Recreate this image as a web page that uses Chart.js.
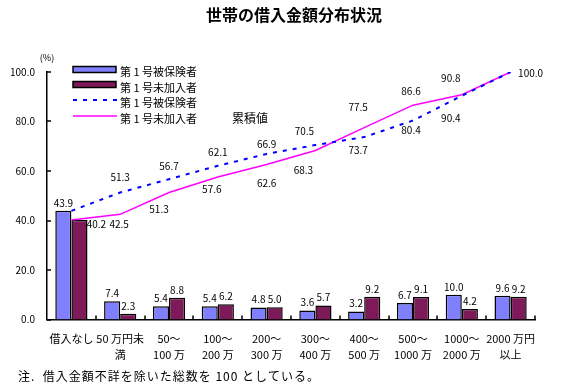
<!DOCTYPE html>
<html lang="ja">
<head>
<meta charset="utf-8">
<script src="https://cdn.jsdelivr.net/npm/chart.js@4.4.1/dist/chart.umd.min.js"></script>
<style>
  html, body { margin: 0; padding: 0; background: #fff; }
  #wrap { width: 561px; height: 384px; }
</style>
</head>
<body>
<div id="wrap"><canvas id="grafico" width="561" height="384"></canvas></div>
<script>
// ── Datos ─────────────────────────────────────────────────────
const categorias = [
  ['借入なし', ''],
  ['50 万円未', '満'],
  ['50～', '100 万'],
  ['100～', '200 万'],
  ['200～', '300 万'],
  ['300～', '400 万'],
  ['400～', '500 万'],
  ['500～', '1000 万'],
  ['1000～', '2000 万'],
  ['2000 万円', '以上']
];
const hihokensha   = [43.9, 7.4, 5.4, 5.4, 4.8, 3.6, 3.2, 6.7, 10.0, 9.6];
const mikanyusha   = [40.2, 2.3, 8.8, 6.2, 5.0, 5.7, 9.2, 9.1, 4.2, 9.2];
const ruisekiHiho  = [43.9, 51.3, 56.7, 62.1, 66.9, 70.5, 73.7, 80.4, 90.4, 100.0];
const ruisekiMika  = [40.2, 42.5, 51.3, 57.6, 62.6, 68.3, 77.5, 86.6, 90.8, 100.0];
const yTicks       = [0, 20, 40, 60, 80, 100];

const FONT = '"Noto Sans CJK JP", sans-serif';
const AZUL = '#8080ff';
const VINO = '#7f1a5a';

// posiciones de las etiquetas de las líneas (dx, dy respecto del punto)
const posHiho = [null, [0,-15], [0,-13], [0,-14], [0,-10], [-11,-14], [-6,13], [-2,10], [-11,22], [20,1]];
const posMika = [[25,4], [-1,10], [-10,17], [-6,12], [0,19], [-12,20], [-6,-20], [-2,-14], [-11,-17], null];

// ── Plugin: textos, leyenda, ticks internos ───────────────────
const extras = {
  id: 'extras',
  afterDraw(chart) {
    const c = chart.ctx;
    const area = chart.chartArea;
    const ys = chart.scales.y;
    c.save();
    c.fillStyle = '#000';
    c.strokeStyle = '#000';

    // ticks hacia adentro
    c.lineWidth = 1.5;
    c.beginPath();
    yTicks.forEach(v => {
      const y = Math.round(ys.getPixelForValue(v));
      c.moveTo(area.left, y); c.lineTo(area.left + 4, y);
    });
    for (let i = 1; i <= categorias.length; i++) {
      const x = Math.round(area.left + (area.right - area.left) * i / categorias.length);
      c.moveTo(x, area.bottom); c.lineTo(x, area.bottom - 4);
    }
    c.stroke();

    // título
    c.textAlign = 'center'; c.textBaseline = 'middle';
    c.font = 'bold 16px ' + FONT;
    c.fillText('世帯の借入金額分布状況', 294, 15);

    c.font = '9px ' + FONT;
    c.fillText('(%)', 47, 58);

    // etiquetas de barras
    c.font = '10px ' + FONT;
    [0, 1].forEach(d => {
      const meta = chart.getDatasetMeta(d);
      const vals = chart.data.datasets[d].data;
      meta.data.forEach((bar, j) => {
        if (d === 1 && j === 0) return;
        c.fillText(vals[j].toFixed(1), bar.x, bar.y - 8);
      });
    });

    // etiquetas de líneas
    [[2, posHiho], [3, posMika]].forEach(([d, pos]) => {
      const meta = chart.getDatasetMeta(d);
      const vals = chart.data.datasets[d].data;
      meta.data.forEach((pt, j) => {
        if (!pos[j]) return;
        c.fillText(vals[j].toFixed(1), pt.x + pos[j][0], pt.y + pos[j][1]);
      });
    });

    // leyenda
    c.lineWidth = 1.5;
    c.fillStyle = AZUL; c.fillRect(73, 67, 43, 5); c.strokeRect(73, 66.5, 43, 6);
    c.fillStyle = VINO; c.fillRect(73, 82, 43, 5); c.strokeRect(73, 81.5, 43, 6);
    c.lineWidth = 2; c.strokeStyle = '#0000ff'; c.setLineDash([4, 6]);
    c.beginPath(); c.moveTo(73, 100); c.lineTo(117, 100); c.stroke();
    c.setLineDash([]); c.lineWidth = 1.5; c.strokeStyle = '#ff00ff';
    c.beginPath(); c.moveTo(73, 116); c.lineTo(117, 116); c.stroke();

    c.fillStyle = '#000';
    c.textAlign = 'left';
    c.font = '11px ' + FONT;
    c.fillText('第 1 号被保険者', 120, 72);
    c.fillText('第 1 号未加入者', 120, 88);
    c.fillText('第 1 号被保険者', 120, 103);
    c.fillText('第 1 号未加入者', 120, 119);
    c.font = '12px ' + FONT;
    c.fillText('累積値', 232, 118);

    // nota
    c.font = '12px ' + FONT;
    c.letterSpacing = '1px';
    c.fillText('注.  借入金額不詳を除いた総数を 100 としている。', 18, 376);
    c.restore();
  }
};

// ── Gráfico ───────────────────────────────────────────────────
new Chart(document.getElementById('grafico'), {
  type: 'bar',
  data: {
    labels: categorias,
    datasets: [
      {
        label: '第1号被保険者', data: hihokensha,
        backgroundColor: AZUL, borderColor: '#000', borderWidth: 1.5,
        categoryPercentage: 0.66, barPercentage: 1.0, order: 2
      },
      {
        label: '第1号未加入者', data: mikanyusha,
        backgroundColor: VINO, borderColor: '#000', borderWidth: 1.5,
        categoryPercentage: 0.66, barPercentage: 1.0, order: 2
      },
      {
        type: 'line', label: '第1号被保険者 累積', data: ruisekiHiho,
        borderColor: '#0000ff', borderWidth: 2, borderDash: [4, 6],
        pointRadius: 0, fill: false, tension: 0, order: 1
      },
      {
        type: 'line', label: '第1号未加入者 累積', data: ruisekiMika,
        borderColor: '#ff00ff', borderWidth: 1.5,
        pointRadius: 0, fill: false, tension: 0, order: 1
      }
    ]
  },
  options: {
    responsive: false,
    animation: false,
    devicePixelRatio: 1,
    layout: { padding: { top: 72, left: 0, right: 26, bottom: 0 } },
    plugins: { legend: { display: false }, tooltip: { enabled: false }, title: { display: false } },
    scales: {
      x: {
        grid: { display: false, drawTicks: false },
        border: { display: true, color: '#000', width: 1.5 },
        ticks: {
          color: '#000', padding: 11, maxRotation: 0, autoSkip: false,
          font: { family: FONT, size: 11, lineHeight: 1.45 }
        },
        afterFit: s => { s.height = 64.5; }
      },
      y: {
        min: 0, max: 100,
        grid: { display: false, drawTicks: false },
        border: { display: true, color: '#000', width: 1.5 },
        ticks: {
          stepSize: 20, color: '#000', padding: 12,
          font: { family: FONT, size: 10 },
          callback: v => Number(v).toFixed(1)
        },
        afterFit: s => { s.width = 47; }
      }
    }
  },
  plugins: [extras]
});
</script>
</body>
</html>
